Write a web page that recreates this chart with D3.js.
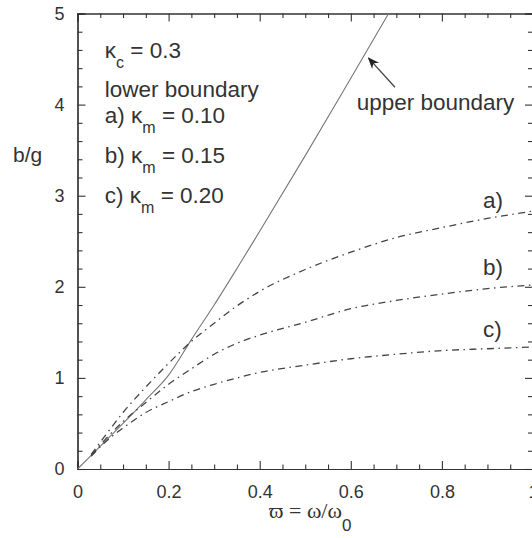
<!DOCTYPE html>
<html>
<head>
<meta charset="utf-8">
<script src="https://cdn.jsdelivr.net/npm/d3@7"></script>
<style>
  body { margin: 0; background: #fff; }
  text { font-family: "Liberation Sans", Arial, sans-serif; fill: #333; }
</style>
</head>
<body>
<div id="vis1"></div>
<script>
// Data
const X_UPPER = [0, 0.05, 0.1, 0.15, 0.2, 0.25, 0.3, 0.35, 0.4, 0.5, 0.6, 0.683];
const Y_UPPER = [0, 0.25, 0.5, 0.76, 1.03, 1.42, 1.80, 2.20, 2.61, 3.44, 4.29, 5.0];

const X_LOWER = [0.03, 0.06, 0.1, 0.15, 0.2, 0.25, 0.3, 0.35, 0.4, 0.5, 0.6, 0.7, 0.8, 0.9, 1.0];
const Y_A = [0.16, 0.36, 0.62, 0.90, 1.16, 1.40, 1.60, 1.79, 1.95, 2.19, 2.38, 2.54, 2.65, 2.75, 2.83];
const Y_B = [0.15, 0.32, 0.52, 0.73, 0.93, 1.10, 1.26, 1.38, 1.47, 1.61, 1.76, 1.85, 1.92, 1.98, 2.02];
const Y_C = [0.14, 0.29, 0.45, 0.62, 0.74, 0.85, 0.93, 1.00, 1.06, 1.14, 1.21, 1.26, 1.30, 1.32, 1.34];

const CURVE_LABELS = ["a)", "b)", "c)"];
const CURVE_LABEL_Y = [2.865, 2.13, 1.45];

const X_TICKS = [0, 0.2, 0.4, 0.6, 0.8, 1];
const X_TICK_LABELS = ["0", "0.2", "0.4", "0.6", "0.8", "1"];
const Y_TICKS = [0, 1, 2, 3, 4, 5];

// Frame
const FRAME_HEIGHT = 538;
const FRAME_WIDTH = 532;
const MARGINS = {left: 77.5, right: -1, top: 13.5, bottom: 69};
const VIS_HEIGHT = FRAME_HEIGHT - MARGINS.top - MARGINS.bottom;
const VIS_WIDTH = FRAME_WIDTH - MARGINS.left - MARGINS.right;

const FRAME1 = d3.select("#vis1")
                 .append("svg")
                 .attr("height", FRAME_HEIGHT)
                 .attr("width", FRAME_WIDTH)
                 .attr("class", "frame");

const X_SCALE = d3.scaleLinear().domain([0, 1]).range([0, VIS_WIDTH]);
const Y_SCALE = d3.scaleLinear().domain([0, 5]).range([VIS_HEIGHT, 0]);

const G = FRAME1.append("g")
                .attr("transform", "translate(" + MARGINS.left + "," + MARGINS.top + ")");

// Axes: ticks point inward on all four sides
const xMinor = d3.range(0, 1.0001, 0.05).filter(v => Math.abs(v * 5 - Math.round(v * 5)) > 1e-6);
const yMinor = d3.range(0, 5.0001, 0.2).filter(v => Math.abs(v - Math.round(v)) > 1e-6);

function styleAxis(g) {
  g.select(".domain").attr("stroke", "#333").attr("stroke-width", 1.2);
  g.selectAll(".tick line").attr("stroke", "#333").attr("stroke-width", 1.1);
}

// bottom
G.append("g")
 .attr("transform", "translate(0," + VIS_HEIGHT + ")")
 .call(d3.axisBottom(X_SCALE).tickValues(X_TICKS).tickSize(-8).tickPadding(16)
         .tickFormat((d, i) => X_TICK_LABELS[i]))
 .call(styleAxis)
 .attr("font-size", "18px");
G.append("g")
 .attr("transform", "translate(0," + VIS_HEIGHT + ")")
 .call(d3.axisBottom(X_SCALE).tickValues(xMinor).tickSize(-4.5).tickFormat(""))
 .call(styleAxis);

// top
G.append("g")
 .call(d3.axisTop(X_SCALE).tickValues(X_TICKS).tickSize(-8).tickFormat(""))
 .call(styleAxis);
G.append("g")
 .call(d3.axisTop(X_SCALE).tickValues(xMinor).tickSize(-4.5).tickFormat(""))
 .call(styleAxis);

// left
G.append("g")
 .call(d3.axisLeft(Y_SCALE).tickValues(Y_TICKS).tickSize(-8).tickPadding(13)
         .tickFormat(d3.format("d")))
 .call(styleAxis)
 .attr("font-size", "18px");
G.append("g")
 .call(d3.axisLeft(Y_SCALE).tickValues(yMinor).tickSize(-5).tickFormat(""))
 .call(styleAxis);

// right
G.append("g")
 .attr("transform", "translate(" + VIS_WIDTH + ",0)")
 .call(d3.axisRight(Y_SCALE).tickValues(Y_TICKS).tickSize(-8).tickFormat(""))
 .call(styleAxis);
G.append("g")
 .attr("transform", "translate(" + VIS_WIDTH + ",0)")
 .call(d3.axisRight(Y_SCALE).tickValues(yMinor).tickSize(-5).tickFormat(""))
 .call(styleAxis);

G.selectAll(".tick text").attr("fill", "#333").style("font-family", "Liberation Sans, Arial, sans-serif");

// Curves
const line = d3.line().x(d => X_SCALE(d[0])).y(d => Y_SCALE(d[1])).curve(d3.curveMonotoneX);

G.append("path")
 .datum(X_UPPER.map((x, i) => [x, Y_UPPER[i]]))
 .attr("d", line)
 .attr("fill", "none")
 .attr("stroke", "#777")
 .attr("stroke-width", 1.1);

[Y_A, Y_B, Y_C].forEach(ys => {
  G.append("path")
   .datum(X_LOWER.map((x, i) => [x, ys[i]]))
   .attr("d", line)
   .attr("fill", "none")
   .attr("stroke", "#444")
   .attr("stroke-width", 1.3)
   .attr("stroke-dasharray", "7,4.5,1.5,4.5");
});

// Curve labels
G.selectAll(".clabel")
 .data(CURVE_LABELS)
 .enter()
 .append("text")
 .attr("class", "clabel")
 .attr("x", X_SCALE(0.89))
 .attr("y", (d, i) => Y_SCALE(CURVE_LABEL_Y[i]))
 .attr("font-size", "22.5px")
 .text(d => d);

// Arrow + upper boundary label
FRAME1.append("defs").append("marker")
      .attr("id", "arrow")
      .attr("viewBox", "0 0 10 10")
      .attr("refX", 9).attr("refY", 5)
      .attr("markerWidth", 9).attr("markerHeight", 9)
      .attr("orient", "auto")
      .append("path")
      .attr("d", "M0,1 L10,5 L0,9 L3,5 Z")
      .attr("fill", "#222");

G.append("line")
 .attr("x1", X_SCALE(0.697)).attr("y1", Y_SCALE(4.19))
 .attr("x2", X_SCALE(0.639)).attr("y2", Y_SCALE(4.51))
 .attr("stroke", "#444").attr("stroke-width", 1.3)
 .attr("marker-end", "url(#arrow)");

G.append("text")
 .attr("x", X_SCALE(0.613))
 .attr("y", Y_SCALE(3.94))
 .attr("font-size", "22.5px")
 .text("upper boundary");

// Parameter block
const INFO = [
  {pre: "κ", sub: "c", post: " = 0.3", y: 4.51},
  {pre: "lower boundary", sub: "", post: "", y: 4.08},
  {pre: "a) κ", sub: "m", post: " = 0.10", y: 3.80},
  {pre: "b) κ", sub: "m", post: " = 0.15", y: 3.36},
  {pre: "c) κ", sub: "m", post: " = 0.20", y: 2.92}
];
INFO.forEach(r => {
  const t = G.append("text")
             .attr("x", X_SCALE(0.06))
             .attr("y", Y_SCALE(r.y))
             .attr("font-size", "22.5px");
  t.append("tspan").text(r.pre);
  if (r.sub) {
    t.append("tspan").attr("dy", 10).attr("font-size", "16px").text(r.sub);
    t.append("tspan").attr("dy", -10).text(r.post);
  }
});

// Axis titles
FRAME1.append("text")
      .attr("x", 13)
      .attr("y", 162)
      .attr("font-size", "21px")
      .text("b/g");

const xt = FRAME1.append("text")
      .attr("x", 269)
      .attr("y", 518)
      .attr("font-size", "22px")
      .style("font-family", "Liberation Serif, DejaVu Serif, serif");
xt.append("tspan").text("ϖ = ω/ω");
xt.append("tspan").attr("dy", 13).attr("font-size", "17px")
  .style("font-family", "Liberation Sans, Arial, sans-serif").text("0");
</script>
</body>
</html>
